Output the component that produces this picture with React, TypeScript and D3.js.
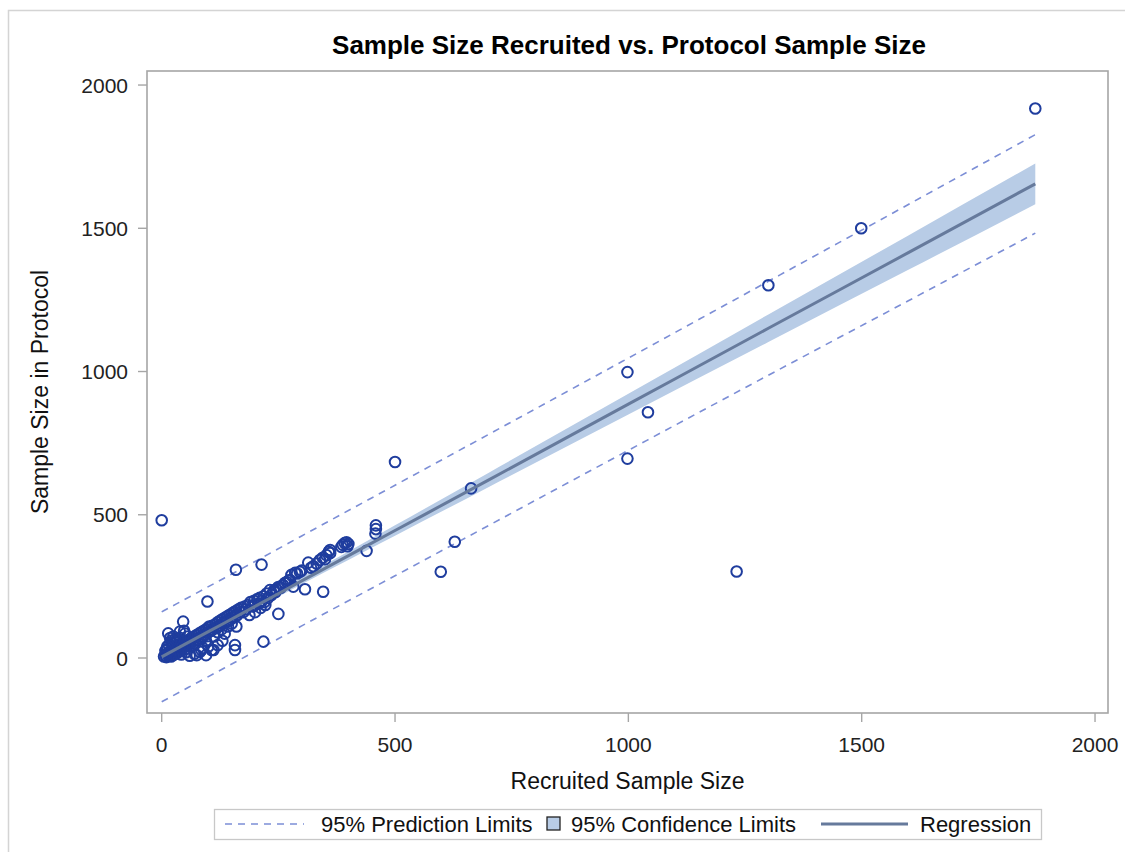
import React from "react";
import * as d3 from "d3";

// recruited vs protocol sample size, one pair per study
const studies: [number, number][] = [
  [0, 481], [1872, 1918], [1499, 1500], [1300, 1301], [998, 998], [998, 696], [1042, 858], [1232, 302],
  [500, 684], [663, 592], [628, 406], [598, 301],
  [459, 463], [459, 450], [458, 434], [439, 374], [388, 395], [392, 401], [396, 404], [400, 398], [398, 390], [385, 388],
  [361, 377], [361, 366], [358, 371], [353, 359], [339, 342], [332, 330], [314, 333], [346, 231], [307, 240], [282, 249],
  [296, 301], [286, 297], [278, 290], [300, 305], [290, 295], [275, 272], [272, 270], [268, 265], [264, 262], [260, 255],
  [255, 245], [250, 248], [245, 240], [240, 235], [232, 237], [228, 210], [225, 225], [222, 185], [220, 195], [218, 215],
  [215, 200], [214, 326], [212, 175], [210, 210], [208, 190], [205, 205], [200, 185], [200, 160], [198, 200], [195, 180],
  [190, 195], [188, 150], [185, 185], [180, 170], [178, 180], [175, 160], [170, 175], [168, 160], [165, 170], [162, 150],
  [160, 165], [160, 110], [159, 308], [158, 145], [157, 45], [157, 28], [155, 160], [152, 140], [150, 155], [150, 120],
  [148, 135], [145, 150], [142, 110], [140, 145], [140, 130], [138, 125], [135, 140], [135, 85], [132, 120], [130, 135],
  [130, 60], [128, 100], [125, 130], [125, 115], [122, 110], [120, 125], [120, 90], [120, 45], [118, 105], [115, 118],
  [112, 75], [111, 28], [110, 100], [108, 112], [107, 28], [105, 95], [102, 110], [100, 105], [100, 90], [100, 40],
  [98, 197], [98, 88], [95, 100], [95, 60], [95, 10], [92, 80], [90, 95], [88, 75], [88, 35], [85, 90], [85, 28],
  [82, 70], [82, 22], [80, 85], [78, 65], [75, 80], [75, 10], [72, 50], [70, 75], [70, 15], [68, 60], [65, 70],
  [62, 55], [60, 65], [60, 40], [60, 8], [58, 50], [55, 60], [55, 45], [55, 75], [52, 20], [50, 55], [50, 30],
  [50, 85], [48, 40], [48, 95], [46, 127], [45, 50], [45, 35], [42, 12], [40, 45], [40, 25], [40, 70], [39, 92],
  [38, 32], [35, 40], [35, 20], [35, 65], [32, 28], [30, 35], [30, 15], [30, 55], [28, 22], [28, 65], [25, 30],
  [25, 10], [25, 75], [22, 18], [22, 50], [20, 25], [20, 5], [20, 60], [18, 12], [18, 70], [15, 8], [15, 20],
  [15, 45], [14, 86], [12, 15], [12, 40], [10, 3], [10, 30], [8, 10], [8, 25], [5, 5], [250, 154], [218, 57],
  [320, 315], [325, 320], [345, 350], [350, 345], [235, 220], [244, 230],
];

// fit and limits at a few x positions
const bandX = [0, 100, 200, 300, 500, 700, 1000, 1300, 1600, 1872];
const fitY = [4, 92, 180, 269, 445, 621, 886, 1151, 1415, 1655];
const lowerCLM = [-9, 80, 169, 257, 427, 596, 850, 1103, 1355, 1584];
const upperCLM = [17, 104, 191, 281, 463, 646, 922, 1199, 1475, 1726];
const lowerCL = [-153, -65, 23, 112, 287, 462, 725, 987, 1247, 1483];
const upperCL = [161, 249, 337, 426, 603, 780, 1047, 1315, 1583, 1827];

const xTicks = [0, 500, 1000, 1500, 2000];
const yTicks = [0, 500, 1000, 1500, 2000];

const W = 1125;
const H = 852;
const plot = { left: 147, top: 71, right: 1108, bottom: 713 };

const font = "'Liberation Sans', Arial, sans-serif";
const frameColor = "#a6a6a6";
const markerColor = "#1f3d9e";
const bandColor = "#b8cce6";
const fitColor = "#667a9c";
const predColor = "#7c8ed6";

export default function App() {
  const x = d3.scaleLinear().domain([-31.5, 2027.8]).range([plot.left, plot.right]);
  const y = d3.scaleLinear().domain([-192, 2049]).range([plot.bottom, plot.top]);

  const band = d3
    .area<number>()
    .x((_, i) => x(bandX[i]))
    .y0((_, i) => y(lowerCLM[i]))
    .y1((_, i) => y(upperCLM[i]))
    .curve(d3.curveMonotoneX)(bandX);

  const lineOf = (vals: number[]) =>
    d3
      .line<number>()
      .x((_, i) => x(bandX[i]))
      .y((_, i) => y(vals[i]))
      .curve(d3.curveMonotoneX)(bandX) || "";

  const midX = (plot.left + plot.right) / 2;
  const midY = (plot.top + plot.bottom) / 2;
  const legY = 824;

  return (
    <svg
      width={W}
      height={H}
      style={{ position: "absolute", left: 0, top: 0, display: "block", background: "#fff" }}
      fontFamily={font}
    >
      {/* outer border (cropped on right and bottom) */}
      <rect x={8.5} y={10.5} width={1200} height={1000} fill="none" stroke="#d4d4d4" strokeWidth={1.5} />

      <text x={629} y={54} textAnchor="middle" fontSize={26} fontWeight="bold" fill="#000">
        Sample Size Recruited vs. Protocol Sample Size
      </text>

      {/* bands and fit */}
      <path d={band || ""} fill={bandColor} />
      <path d={lineOf(upperCL)} fill="none" stroke={predColor} strokeWidth={1.6} strokeDasharray="7,6" />
      <path d={lineOf(lowerCL)} fill="none" stroke={predColor} strokeWidth={1.6} strokeDasharray="7,6" />

      {studies.map((d, i) => (
        <circle
          key={i}
          cx={x(d[0])}
          cy={y(d[1])}
          r={5.3}
          fill="none"
          stroke={markerColor}
          strokeWidth={2}
        />
      ))}

      <path d={lineOf(fitY)} fill="none" stroke={fitColor} strokeWidth={3} />

      {/* plot frame */}
      <rect
        x={plot.left}
        y={plot.top}
        width={plot.right - plot.left}
        height={plot.bottom - plot.top}
        fill="none"
        stroke={frameColor}
        strokeWidth={1.6}
      />

      {/* x axis */}
      {xTicks.map((t) => (
        <g key={"x" + t}>
          <line x1={x(t)} x2={x(t)} y1={plot.bottom} y2={plot.bottom + 9} stroke={frameColor} strokeWidth={1.4} />
          <text x={x(t)} y={752} textAnchor="middle" fontSize={21} fill="#222">
            {t}
          </text>
        </g>
      ))}
      <text x={midX} y={789} textAnchor="middle" fontSize={23} fill="#111">
        Recruited Sample Size
      </text>

      {/* y axis */}
      {yTicks.map((t) => (
        <g key={"y" + t}>
          <line x1={plot.left - 9} x2={plot.left} y1={y(t)} y2={y(t)} stroke={frameColor} strokeWidth={1.4} />
          <text x={128} y={y(t)} dy="0.36em" textAnchor="end" fontSize={21} fill="#222">
            {t}
          </text>
        </g>
      ))}
      <text
        transform={`translate(48,${midY}) rotate(-90)`}
        textAnchor="middle"
        fontSize={23}
        fill="#111"
      >
        Sample Size in Protocol
      </text>

      {/* legend */}
      <rect x={214.5} y={809.5} width={827} height={30} fill="#fff" stroke="#c8c8c8" strokeWidth={1.3} />
      <line x1={225} x2={304} y1={legY} y2={legY} stroke={predColor} strokeWidth={1.6} strokeDasharray="7,6" />
      <text x={321} y={legY + 7.5} fontSize={22} fill="#111">
        95% Prediction Limits
      </text>
      <rect x={547} y={817} width={13} height={13} fill={bandColor} stroke="#222" strokeWidth={1.3} />
      <text x={571} y={legY + 7.5} fontSize={22} fill="#111">
        95% Confidence Limits
      </text>
      <line x1={821} x2={908} y1={legY} y2={legY} stroke={fitColor} strokeWidth={3} />
      <text x={920} y={legY + 7.5} fontSize={22} fill="#111">
        Regression
      </text>
    </svg>
  );
}
